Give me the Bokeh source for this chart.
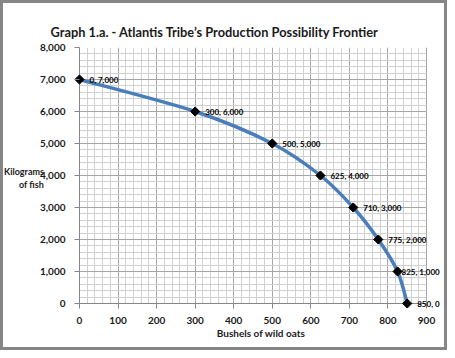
from bokeh.plotting import figure
from bokeh.models import Label, NumeralTickFormatter, FixedTicker, Range1d
from bokeh.embed import file_html
from bokeh.resources import INLINE

# ---- data ----
oats = [0, 300, 500, 625, 710, 775, 825, 850]          # bushels of wild oats
fish = [7000, 6000, 5000, 4000, 3000, 2000, 1000, 0]   # kilograms of fish
x_ticks = [0, 100, 200, 300, 400, 500, 600, 700, 800, 900]
y_ticks = [0, 1000, 2000, 3000, 4000, 5000, 6000, 7000, 8000]
title_text = "Graph 1.a.  - Atlantis Tribe\u2019s Production Possibility Frontier"
x_label = "Bushels of wild oats"
y_label = "Kilograms\nof fish"

# label offsets (style, pixels)
label_dx = [10, 10, 10, 10, 10, 10, 4, 10]

FONT = "Lato"
W, H = 447, 350
AX_L, AX_R, AX_T, AX_B = 79, 426, 47, 303   # gridded box in canvas pixels
PAD = 5                               # frame reaches a little past the axes
X0, X1 = x_ticks[0], x_ticks[-1]
Y0, Y1 = y_ticks[0], y_ticks[-1]
xs_per_px = (X1 - X0) / (AX_R - AX_L)
ys_per_px = (Y1 - Y0) / (AX_B - AX_T)
x_start = X0 - PAD * xs_per_px
x_end = X1 + (W - AX_R) * xs_per_px
y_start = Y0 - PAD * ys_per_px
frame_left = AX_L - PAD

p = figure(width=W, height=H, output_backend="svg", toolbar_location=None,
           x_range=Range1d(x_start, x_end), y_range=Range1d(y_start, Y1),
           min_border_left=frame_left, min_border_right=0, min_border_top=AX_T,
           min_border_bottom=H - (AX_B + PAD))
p.styles = {"box-shadow": "inset 0 0 0 3px #868686"}
p.background_fill_color = None
p.border_fill_color = None
p.outline_line_color = None

# title
p.title.text = title_text
p.title.align = "left"
p.title.offset = 50 - frame_left
p.title.text_font = FONT
p.title.text_font_style = "bold"
p.title.text_font_size = "12.8px"
p.title.text_color = "#1a1a1a"
p.title.standoff = 16

# grids
x_minor = list(range(X0, X1 + 1, 20))
y_minor = list(range(Y0, Y1 + 1, 200))
p.xaxis.ticker = FixedTicker(ticks=x_ticks, minor_ticks=x_minor)
p.yaxis.ticker = FixedTicker(ticks=y_ticks, minor_ticks=y_minor)
p.xgrid.bounds = (X0, X1)
p.xgrid.cross_bounds = (Y0, Y1)
p.ygrid.bounds = (Y0, Y1)
p.ygrid.cross_bounds = (X0, X1)
for g in (p.xgrid, p.ygrid):
    g.grid_line_color = "#a6a6a6"
    g.grid_line_width = 1
    g.minor_grid_line_color = "#d0d0d0"
    g.minor_grid_line_width = 1

for ax in (p.xaxis, p.yaxis):
    ax.axis_line_color = None
    ax.major_tick_line_color = "#868686"
    ax.major_tick_in = PAD
    ax.major_tick_out = 0
    ax.minor_tick_line_color = None
    ax.major_label_text_font = FONT
    ax.major_label_text_font_style = "bold"
    ax.major_label_text_font_size = "10px"
    ax.major_label_text_color = "#1a1a1a"
    ax.major_label_standoff = 5
    ax.axis_label_text_font = FONT
    ax.axis_label_text_font_style = "bold"
    ax.axis_label_text_color = "#1a1a1a"

p.yaxis.formatter = NumeralTickFormatter(format="0,0")
p.xaxis.major_label_standoff = 4
p.xaxis.axis_label = x_label
p.xaxis.axis_label_text_font_size = "10px"
p.xaxis.axis_label_standoff = 0
p.yaxis.axis_label = y_label
p.yaxis.axis_label_text_font_size = "9px"
p.yaxis.axis_label_orientation = "horizontal"
p.yaxis.axis_label_standoff = -7
p.yaxis.axis_label_text_align = "center"

# axis lines along the gridded box
p.line([X0, X0], [Y0, Y1], line_color="#868686", line_width=1)
p.line([X0, X1], [Y0, Y0], line_color="#868686", line_width=1)

# smooth curve through data points (Catmull-Rom -> cubic bezier)
n = len(oats)
x0s, y0s, x1s, y1s, cx0, cy0, cx1, cy1 = [], [], [], [], [], [], [], []
for i in range(n - 1):
    p0 = (oats[max(i - 1, 0)], fish[max(i - 1, 0)])
    p1 = (oats[i], fish[i])
    p2 = (oats[i + 1], fish[i + 1])
    p3 = (oats[min(i + 2, n - 1)], fish[min(i + 2, n - 1)])
    x0s.append(p1[0]); y0s.append(p1[1])
    x1s.append(p2[0]); y1s.append(p2[1])
    cx0.append(p1[0] + (p2[0] - p0[0]) / 6.0)
    cy0.append(p1[1] + (p2[1] - p0[1]) / 6.0)
    cx1.append(p2[0] - (p3[0] - p1[0]) / 6.0)
    cy1.append(p2[1] - (p3[1] - p1[1]) / 6.0)
p.bezier(x0=x0s, y0=y0s, x1=x1s, y1=y1s, cx0=cx0, cy0=cy0, cx1=cx1, cy1=cy1,
         line_color="#4a7ebb", line_width=3.5)

p.scatter(oats, fish, marker="square", size=6.5, angle=0.785398,
          fill_color="black", line_color="black")

for xv, yv, dx in zip(oats, fish, label_dx):
    p.add_layout(Label(x=xv, y=yv, x_offset=dx, text=f"{xv}, {yv:,}",
                       text_font=FONT, text_font_style="bold",
                       text_font_size="8px", text_color="#000000",
                       text_baseline="middle", text_align="left"))

open("out.html", "w").write(file_html(p, INLINE))
